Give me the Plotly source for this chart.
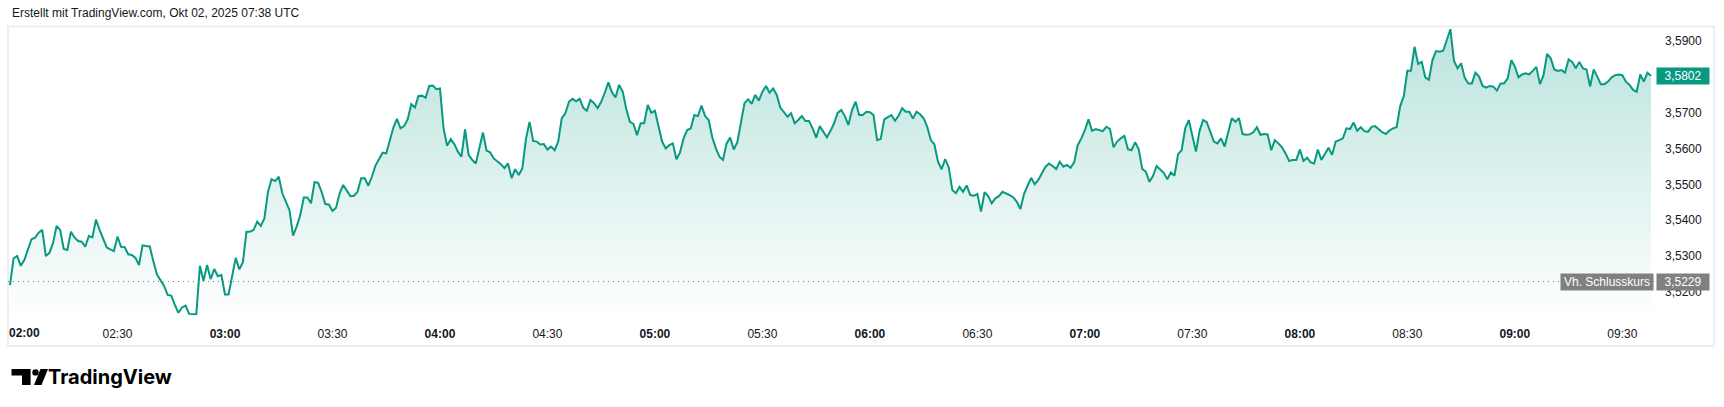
import plotly.graph_objects as go
import pandas as pd

# ---------------- data ----------------
start_time = "2025-10-02 02:00"   # local chart time (UTC+2), 1-minute bars
price = [
    3.5219, 3.5294, 3.5300, 3.5273, 3.5289, 3.5318, 3.5347, 3.5351, 3.5365, 3.5373,
    3.5300, 3.5309, 3.5336, 3.5384, 3.5373, 3.5320, 3.5317, 3.5368, 3.5352, 3.5342,
    3.5340, 3.5326, 3.5356, 3.5352, 3.5402, 3.5373, 3.5347, 3.5324, 3.5319, 3.5314,
    3.5354, 3.5326, 3.5325, 3.5305, 3.5303, 3.5295, 3.5275, 3.5330, 3.5328, 3.5327,
    3.5286, 3.5249, 3.5233, 3.5217, 3.5192, 3.5190, 3.5164, 3.5142, 3.5157, 3.5162,
    3.5139, 3.5139, 3.5138, 3.5273, 3.5231, 3.5275, 3.5236, 3.5264, 3.5244, 3.5247,
    3.5193, 3.5193, 3.5243, 3.5295, 3.5263, 3.5283, 3.5368, 3.5368, 3.5373, 3.5396,
    3.5384, 3.5405, 3.5479, 3.5514, 3.5509, 3.5521, 3.5475, 3.5451, 3.5428, 3.5357,
    3.5382, 3.5414, 3.5463, 3.5463, 3.5447, 3.5506, 3.5504, 3.5478, 3.5445, 3.5444,
    3.5426, 3.5435, 3.5475, 3.5498, 3.5481, 3.5467, 3.5468, 3.5479, 3.5517, 3.5517,
    3.5496, 3.5521, 3.5552, 3.5570, 3.5588, 3.5586, 3.5619, 3.5658, 3.5682, 3.5656,
    3.5662, 3.5681, 3.5723, 3.5714, 3.5746, 3.5747, 3.5741, 3.5774, 3.5775, 3.5765,
    3.5767, 3.5656, 3.5607, 3.5626, 3.5612, 3.5591, 3.5577, 3.5653, 3.5582, 3.5568,
    3.5558, 3.5600, 3.5644, 3.5594, 3.5589, 3.5572, 3.5565, 3.5556, 3.5545, 3.5558,
    3.5517, 3.5542, 3.5526, 3.5545, 3.5626, 3.5674, 3.5621, 3.5619, 3.5611, 3.5612,
    3.5597, 3.5605, 3.5595, 3.5619, 3.5684, 3.5698, 3.5730, 3.5738, 3.5731, 3.5738,
    3.5713, 3.5705, 3.5735, 3.5726, 3.5712, 3.5730, 3.5755, 3.5784, 3.5756, 3.5742,
    3.5777, 3.5758, 3.5710, 3.5674, 3.5668, 3.5637, 3.5670, 3.5670, 3.5721, 3.5699,
    3.5705, 3.5660, 3.5619, 3.5600, 3.5609, 3.5614, 3.5570, 3.5589, 3.5628, 3.5651,
    3.5656, 3.5693, 3.5690, 3.5719, 3.5690, 3.5679, 3.5631, 3.5600, 3.5577, 3.5568,
    3.5614, 3.5630, 3.5597, 3.5617, 3.5674, 3.5726, 3.5737, 3.5724, 3.5749, 3.5733,
    3.5758, 3.5774, 3.5755, 3.5767, 3.5749, 3.5713, 3.5701, 3.5688, 3.5698, 3.5670,
    3.5679, 3.5690, 3.5676, 3.5676, 3.5656, 3.5630, 3.5662, 3.5645, 3.5631, 3.5649,
    3.5670, 3.5699, 3.5707, 3.5690, 3.5665, 3.5707, 3.5730, 3.5693, 3.5693, 3.5702,
    3.5701, 3.5693, 3.5623, 3.5626, 3.5681, 3.5687, 3.5693, 3.5677, 3.5691, 3.5712,
    3.5702, 3.5702, 3.5683, 3.5702, 3.5695, 3.5684, 3.5660, 3.5623, 3.5611, 3.5563,
    3.5542, 3.5570, 3.5547, 3.5484, 3.5475, 3.5493, 3.5479, 3.5497, 3.5470, 3.5468,
    3.5473, 3.5424, 3.5478, 3.5467, 3.5447, 3.5461, 3.5467, 3.5479, 3.5475, 3.5470,
    3.5464, 3.5451, 3.5431, 3.5473, 3.5496, 3.5518, 3.5500, 3.5512, 3.5531, 3.5549,
    3.5558, 3.5551, 3.5543, 3.5563, 3.5549, 3.5554, 3.5546, 3.5561, 3.5609, 3.5628,
    3.5651, 3.5681, 3.5649, 3.5654, 3.5651, 3.5648, 3.5660, 3.5654, 3.5603, 3.5619,
    3.5628, 3.5635, 3.5598, 3.5595, 3.5617, 3.5598, 3.5543, 3.5535, 3.5507, 3.5523,
    3.5551, 3.5540, 3.5532, 3.5514, 3.5533, 3.5524, 3.5584, 3.5595, 3.5656, 3.5679,
    3.5633, 3.5591, 3.5649, 3.5679, 3.5673, 3.5648, 3.5619, 3.5614, 3.5628, 3.5605,
    3.5644, 3.5684, 3.5674, 3.5684, 3.5640, 3.5638, 3.5639, 3.5645, 3.5659, 3.5638,
    3.5640, 3.5639, 3.5595, 3.5623, 3.5614, 3.5603, 3.5586, 3.5565, 3.5568, 3.5568,
    3.5597, 3.5565, 3.5574, 3.5561, 3.5558, 3.5597, 3.5568, 3.5584, 3.5602, 3.5582,
    3.5619, 3.5623, 3.5628, 3.5656, 3.5654, 3.5672, 3.5649, 3.5659, 3.5648, 3.5646,
    3.5660, 3.5662, 3.5653, 3.5645, 3.5640, 3.5650, 3.5656, 3.5659, 3.5718, 3.5746,
    3.5816, 3.5816, 3.5883, 3.5835, 3.5841, 3.5798, 3.5791, 3.5846, 3.5871, 3.5869,
    3.5872, 3.5902, 3.5932, 3.5844, 3.5823, 3.5837, 3.5797, 3.5781, 3.5781, 3.5811,
    3.5800, 3.5774, 3.5769, 3.5774, 3.5772, 3.5761, 3.5781, 3.5781, 3.5795, 3.5846,
    3.5828, 3.5798, 3.5806, 3.5809, 3.5806, 3.5816, 3.5827, 3.5779, 3.5804, 3.5863,
    3.5851, 3.5820, 3.5816, 3.5818, 3.5811, 3.5848, 3.5841, 3.5823, 3.5841, 3.5823,
    3.5820, 3.5772, 3.5820, 3.5800, 3.5779, 3.5779, 3.5786, 3.5798, 3.5804, 3.5806,
    3.5804, 3.5786, 3.5777, 3.5763, 3.5758, 3.5806, 3.5786, 3.5811, 3.5802,
]
prev_close = 3.5229
y_ticks = [3.52, 3.53, 3.54, 3.55, 3.56, 3.57, 3.58, 3.59]
y_tick_labels = ["3,5200", "3,5300", "3,5400", "3,5500", "3,5600", "3,5700", "3,5800", "3,5900"]
x_tick_labels = ["02:00", "02:30", "03:00", "03:30", "04:00", "04:30", "05:00", "05:30",
                 "06:00", "06:30", "07:00", "07:30", "08:00", "08:30", "09:00", "09:30"]
header = "Erstellt mit TradingView.com, Okt 02, 2025 07:38 UTC"
prev_close_name = "Vh. Schlusskurs"

# ---------------- layout geometry (pixels) ----------------
W, H = 1724, 407
PL, PR, PT, PB = 8, 1654, 27, 319
PX_PER_MIN = 3.583
X0_PX = 10.0
Y_TOP = 3.593816
Y_BOT = 3.512479

GREEN = "#089981"
TEXT = "#131722"
GRAY = "#808080"
FONT = "Liberation Sans, Arial, sans-serif"

def px(x):
    return (x - PL) / (PR - PL)

def py(y):
    return (PB - y) / (PB - PT)

def fmt(v):
    return f"{v:.4f}".replace(".", ",")

t0 = pd.Timestamp(start_time)
times = pd.date_range(t0, periods=len(price), freq="min")
x_range = [t0 + pd.Timedelta(minutes=(PL - X0_PX) / PX_PER_MIN),
           t0 + pd.Timedelta(minutes=(PR - X0_PX) / PX_PER_MIN)]

tick_times = [pd.Timestamp(f"2025-10-02 {t}") for t in x_tick_labels]
tick_text = [f"<b>{t}</b>" if t.endswith(":00") else t for t in x_tick_labels]

fig = go.Figure()
fig.add_trace(go.Scatter(
    x=times, y=price, mode="lines",
    line=dict(color=GREEN, width=2),
    fill="tozeroy",
    fillgradient=dict(type="vertical",
                      colorscale=[[0, "rgba(8,153,129,0.0)"], [1, "rgba(8,153,129,0.28)"]],
                      start=Y_BOT, stop=Y_TOP),
    hoverinfo="skip", showlegend=False,
))

shapes = []
# panel border
shapes.append(dict(type="rect", xref="paper", yref="paper",
                   x0=px(8), x1=px(1714), y0=py(346), y1=py(26.5),
                   line=dict(color="#eceef1", width=2), layer="below"))
# previous close dotted line
shapes.append(dict(type="line", xref="paper", yref="y", x0=0, x1=1,
                   y0=prev_close, y1=prev_close,
                   line=dict(color="#787b86", width=1, dash="1px,4px")))
# TradingView logo mark
shapes.append(dict(type="path", xref="paper", yref="paper",
                   path=(f"M {px(11.5)},{py(369)} L {px(30.6)},{py(369)} L {px(30.6)},{py(385)} "
                         f"L {px(22)},{py(385)} L {px(22)},{py(375.5)} L {px(11.5)},{py(375.5)} Z"),
                   fillcolor="#000000", line=dict(width=0)))
shapes.append(dict(type="circle", xref="paper", yref="paper",
                   x0=px(32.3), x1=px(38.7), y0=py(375.6), y1=py(369.2),
                   fillcolor="#000000", line=dict(width=0)))
shapes.append(dict(type="path", xref="paper", yref="paper",
                   path=(f"M {px(40.5)},{py(369)} L {px(48)},{py(369)} L {px(41.5)},{py(385)} "
                         f"L {px(34)},{py(385)} Z"),
                   fillcolor="#000000", line=dict(width=0)))

annotations = [
    dict(text=header, xref="paper", yref="paper", x=px(10), y=py(13),
         xanchor="left", yanchor="middle", showarrow=False,
         font=dict(family=FONT, size=12, color=TEXT)),
    dict(text="<b>TradingView</b>", xref="paper", yref="paper", x=px(46), y=py(377),
         xanchor="left", yanchor="middle", showarrow=False,
         font=dict(family="Inter, Liberation Sans, sans-serif", size=20, color="#000000")),
    # first time label (kept inside the panel)
    dict(text=tick_text[0] if not x_tick_labels[0].endswith(":00") else f"<b>{x_tick_labels[0]}</b>",
         xref="x", yref="paper", x=tick_times[0], y=py(333),
         xanchor="left", yanchor="middle", showarrow=False, xshift=-3,
         font=dict(family=FONT, size=12, color=TEXT)),
    # last price label
    dict(text=fmt(price[-1]), xref="paper", yref="y", x=px(1656), y=price[-1],
         xanchor="left", yanchor="middle", showarrow=False,
         bgcolor=GREEN, width=48, height=12, borderpad=2,
         font=dict(family=FONT, size=12, color="#ffffff")),
    # previous close labels
    dict(text=prev_close_name, xref="paper", yref="y", x=px(1654), y=prev_close,
         xanchor="right", yanchor="middle", showarrow=False,
         bgcolor=GRAY, width=88, height=12, borderpad=2,
         font=dict(family=FONT, size=12, color="#ffffff")),
    dict(text=fmt(prev_close), xref="paper", yref="y", x=px(1656), y=prev_close,
         xanchor="left", yanchor="middle", showarrow=False,
         bgcolor=GRAY, width=48, height=12, borderpad=2,
         font=dict(family=FONT, size=12, color="#ffffff")),
]

fig.update_layout(
    width=W, height=H,
    margin=dict(l=PL, r=W - PR, t=PT, b=H - PB, pad=0),
    paper_bgcolor="#ffffff", plot_bgcolor="#ffffff",
    font=dict(family=FONT, size=12, color=TEXT),
    shapes=shapes, annotations=annotations,
    hovermode=False,
    xaxis=dict(type="date", range=x_range, showgrid=False, zeroline=False, showline=False,
               ticks="", tickvals=tick_times[1:], ticktext=tick_text[1:],
               tickfont=dict(family=FONT, size=12, color=TEXT),
               ticklabelstandoff=6, fixedrange=True),
    yaxis=dict(side="right", range=[Y_BOT, Y_TOP], showgrid=False, zeroline=False,
               showline=False, ticks="", tickvals=y_ticks, ticktext=y_tick_labels,
               tickfont=dict(family=FONT, size=12, color=TEXT),
               ticklabelstandoff=10, fixedrange=True),
)

fig.write_html("out.html", config={"displayModeBar": False})
